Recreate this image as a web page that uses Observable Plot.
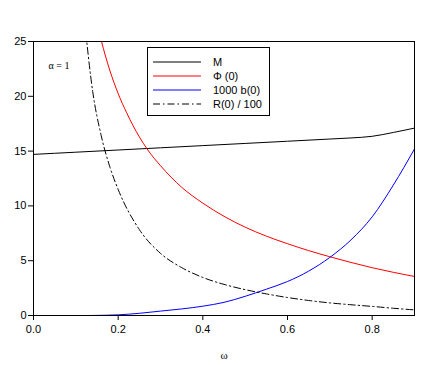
<!DOCTYPE html>
<html><head><meta charset="utf-8">
<script src="https://cdn.jsdelivr.net/npm/d3@7"></script>
<script src="https://cdn.jsdelivr.net/npm/@observablehq/plot@0.6"></script>
<style>
body{margin:0;background:#fff;}
#wrap{position:relative;width:436px;height:365px;}
#legend{position:absolute;left:147px;top:47px;width:121px;height:67px;border:1px solid #000;background:#fff;font-family:"Liberation Sans",Arial,sans-serif;font-size:11px;}
#legend .row{position:absolute;left:5px;height:14px;display:flex;align-items:center;}
#legend .row span{margin-left:12px;}
</style>
</head><body>
<div id="wrap"></div>
<script>
const xTicks = [0, 0.2, 0.4, 0.6, 0.8];
const yTicks = [0, 5, 10, 15, 20, 25];

const omegaM = [0, 0.1, 0.2, 0.3, 0.4, 0.5, 0.6, 0.7, 0.75, 0.8, 0.85, 0.9];
const valM   = [14.7, 14.9, 15.1, 15.3, 15.5, 15.7, 15.9, 16.1, 16.2, 16.35, 16.7, 17.1];

const omegaPhi = [0.15, 0.16, 0.18, 0.2, 0.22, 0.25, 0.27, 0.3, 0.35, 0.4, 0.45, 0.5, 0.55, 0.6, 0.65, 0.7, 0.75, 0.8, 0.85, 0.9];
const valPhi   = [26.7, 25.1, 22.4, 20.25, 18.5, 16.3, 15.1, 13.67, 11.7, 10.25, 9.05, 8.06, 7.24, 6.55, 5.92, 5.36, 4.84, 4.36, 3.94, 3.56];

const omegaB = [0.13, 0.15, 0.2, 0.25, 0.3, 0.35, 0.4, 0.45, 0.5, 0.55, 0.6, 0.65, 0.7, 0.75, 0.8, 0.85, 0.9];
const valB   = [0, 0.01, 0.06, 0.2, 0.4, 0.6, 0.85, 1.2, 1.75, 2.4, 3.1, 4.05, 5.3, 6.9, 9.0, 11.9, 15.2];

const omegaR = [0.12, 0.14, 0.16, 0.18, 0.2, 0.25, 0.3, 0.35, 0.4, 0.45, 0.5, 0.55, 0.6, 0.65, 0.7, 0.75, 0.8, 0.85, 0.9];
const valR   = [27.1, 20.4, 16.4, 13.6, 11.5, 7.84, 5.67, 4.37, 3.47, 2.84, 2.36, 1.97, 1.64, 1.37, 1.15, 0.98, 0.83, 0.66, 0.51];

const legendLabels = ["M", "\u03A6 (0)", "1000 b(0)", "R(0) / 100"];
const colors = ["#000000", "#ff0000", "#0000ff", "#000000"];
const dashes = [null, null, null, "7,3,1.5,3"];

const zip = (xs, ys) => xs.map((x, i) => ({x, y: ys[i]}));
const series = [zip(omegaM, valM), zip(omegaPhi, valPhi), zip(omegaB, valB), zip(omegaR, valR)];

const font = '"Liberation Sans", Arial, sans-serif';
const serif = '"Liberation Serif", "DejaVu Serif", serif';
const plot = Plot.plot({
  width: 436, height: 365,
  marginLeft: 33, marginRight: 22, marginTop: 41, marginBottom: 50,
  style: {fontFamily: font, fontSize: "11px", background: "#fff", color: "#000"},
  x: {domain: [0, 0.9], ticks: xTicks, tickFormat: d3.format(".1f"), label: null},
  y: {domain: [0, 25], ticks: yTicks, label: null},
  marks: [
    Plot.axisX({ticks: xTicks, tickSize: 5, tickPadding: 5, tickFormat: d3.format(".1f"), fontSize: 11}),
    Plot.axisY({ticks: yTicks, tickSize: 5, tickPadding: 2, fontSize: 11}),
    ...series.map((d, i) => Plot.line(d, {x: "x", y: "y", stroke: colors[i], strokeWidth: 1, strokeDasharray: dashes[i], curve: "monotone-x", clip: true})),
    Plot.frame({stroke: "#000", strokeWidth: 1}),
    Plot.text(["\u03B1 = 1"], {frameAnchor: "top-left", dx: 15, dy: 20, fontFamily: serif, fontSize: 10, textAnchor: "start"}),
    Plot.text(["\u03C9"], {frameAnchor: "bottom", dy: 43, fontFamily: serif, fontSize: 11})
  ]
});
document.getElementById("wrap").appendChild(plot);

const leg = document.createElement("div");
leg.id = "legend";
legendLabels.forEach((lab, i) => {
  const row = document.createElement("div");
  row.className = "row";
  row.style.top = (7 + i * 14) + "px";
  row.innerHTML = `<svg width="48" height="6"><line x1="0" y1="3" x2="48" y2="3" stroke="${colors[i]}" stroke-width="1" ${dashes[i] ? `stroke-dasharray="${dashes[i]}"` : ""}/></svg><span>${lab}</span>`;
  leg.appendChild(row);
});
document.getElementById("wrap").appendChild(leg);
</script>
</body></html>
